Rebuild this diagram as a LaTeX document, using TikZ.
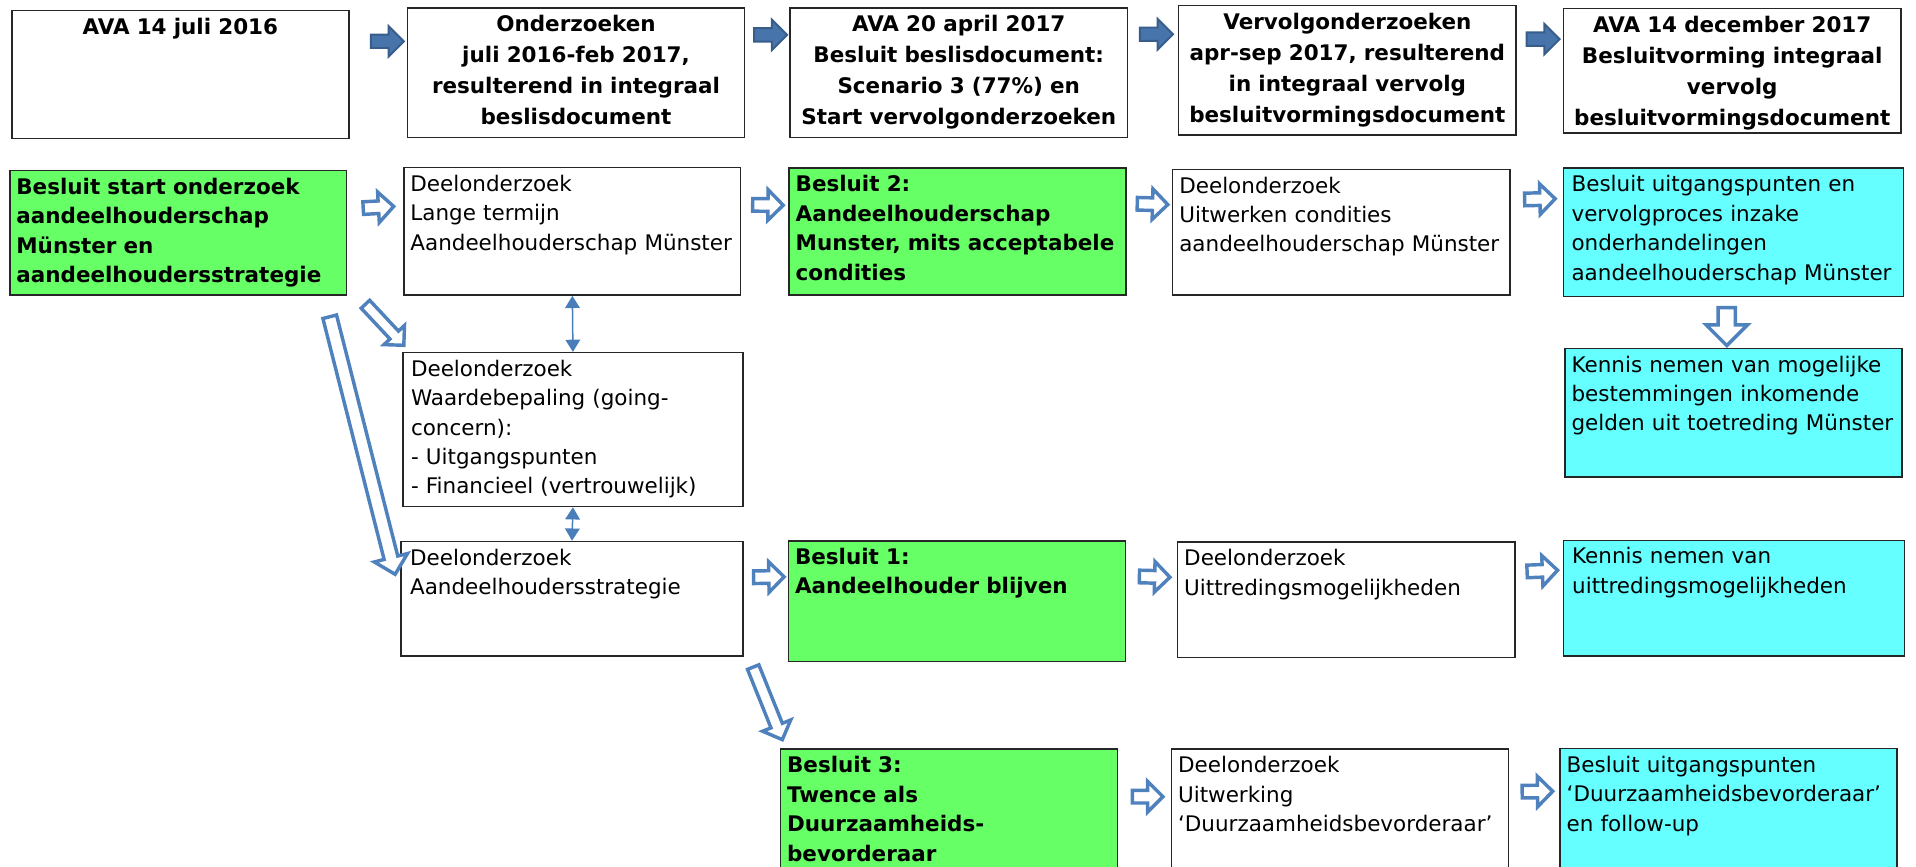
\documentclass[tikz,border=0pt]{standalone}
\usepackage{fontspec}
\setmainfont{DejaVu Sans}
\usetikzlibrary{shapes.arrows,arrows.meta}
\definecolor{groen}{HTML}{66FF66}
\definecolor{cyaan}{HTML}{66FFFF}
\definecolor{blauw}{HTML}{4F81BD}
\definecolor{donkerblauw}{HTML}{385D8A}
\definecolor{pijlblauw}{HTML}{4A7EBB}
\tikzset{
  vak/.style 2 args={draw=black!85, line width=0.7pt, anchor=north west, align=left,
    inner xsep=3pt, inner ysep=2pt, text width=5.3cm, minimum width=#1,
    text height=9pt, text depth=#2, font=\fontsize{10}{13.7}\selectfont},
  kop/.style 2 args={vak={#1}{#2}, align=center, font=\fontsize{10}{14.4}\selectfont\bfseries},
  besluit/.style 2 args={vak={#1}{#2}, fill=groen, font=\fontsize{10}{13.7}\selectfont\bfseries},
  uitkomst/.style 2 args={vak={#1}{#2}, fill=cyaan},
  kopPijl/.style={single arrow, draw=donkerblauw, fill=blauw!65!donkerblauw, line width=0.9pt,
    inner xsep=0pt, inner ysep=0.094cm, minimum height=0.54cm, single arrow head extend=0.14cm},
  holPijl/.style={single arrow, draw=blauw, fill=white, line width=1.6pt,
    inner xsep=0pt, inner ysep=0.075cm, minimum height=0.5cm, single arrow head extend=0.147cm,
    sloped, allow upside down},
  dubbel/.style={pijlblauw, line width=0.7pt,
    {Triangle[length=0.2cm,width=0.24cm]}-{Triangle[length=0.2cm,width=0.24cm]}}
}
\begin{document}
\begin{tikzpicture}
  \path[use as bounding box, clip] (0,0) rectangle (31.36,-14.19);
  % kopregel
  \node[kop={5.52cm}{1.64cm}] (h1) at (0.18,-0.16) {AVA 14 juli 2016};
  \node[kop={5.50cm}{1.66cm}] (h2) at (6.66,-0.12) {Onderzoeken\\juli 2016-feb 2017,\\resulterend in integraal\\beslisdocument};
  \node[kop={5.52cm}{1.66cm}] (h3) at (12.92,-0.12) {AVA 20 april 2017\\Besluit beslisdocument:\\Scenario 3 (77\%) en\\Start vervolgonderzoeken};
  \node[kop={5.52cm}{1.66cm}] (h4) at (19.28,-0.08) {Vervolgonderzoeken\\apr-sep 2017, resulterend\\in integraal vervolg\\besluitvormingsdocument};
  \node[kop={5.52cm}{1.58cm}] (h5) at (25.58,-0.13) {AVA 14 december 2017\\Besluitvorming integraal\\vervolg\\besluitvormingsdocument};
  % besluiten en deelonderzoeken
  \node[besluit={5.51cm}{1.58cm}] (g1) at (0.15,-2.78) {Besluit start onderzoek\\aandeelhouderschap\\Münster en\\aandeelhoudersstrategie};
  \node[vak={5.50cm}{1.63cm}] (w1) at (6.60,-2.73) {Deelonderzoek\\Lange termijn\\Aandeelhouderschap~Münster};
  \node[besluit={5.52cm}{1.62cm}] (g2) at (12.90,-2.74) {Besluit 2:\\Aandeelhouderschap\\Munster,~mits~acceptabele\\condities};
  \node[vak={5.52cm}{1.60cm}] (w2) at (19.18,-2.76) {Deelonderzoek\\Uitwerken condities\\aandeelhouderschap~Münster};
  \node[uitkomst={5.56cm}{1.64cm}] (c1) at (25.58,-2.74) {Besluit uitgangspunten en\\vervolgproces inzake\\onderhandelingen\\aandeelhouderschap~Münster};
  \node[uitkomst={5.52cm}{1.65cm}] (c2) at (25.60,-5.69) {Kennis nemen van mogelijke\\bestemmingen inkomende\\gelden uit toetreding~Münster};
  \node[vak={5.57cm}{2.06cm}] (w3) at (6.58,-5.76) {Deelonderzoek\\Waardebepaling (going-\\concern):\\- Uitgangspunten\\- Financieel (vertrouwelijk)};
  \node[vak={5.60cm}{1.42cm}] (w4) at (6.55,-8.85) {Deelonderzoek\\Aandeelhoudersstrategie};
  \node[besluit={5.52cm}{1.52cm}] (g3) at (12.89,-8.84) {Besluit 1:\\Aandeelhouder blijven};
  \node[vak={5.52cm}{1.43cm}] (w5) at (19.26,-8.86) {Deelonderzoek\\Uittredingsmogelijkheden};
  \node[uitkomst={5.58cm}{1.44cm}] (c3) at (25.58,-8.83) {Kennis nemen van\\uittredingsmogelijkheden};
  \node[besluit={5.52cm}{2.04cm}] (g4) at (12.76,-12.25) {Besluit 3:\\Twence als\\Duurzaamheids-\\bevorderaar};
  \node[vak={5.52cm}{2.04cm}] (w6) at (19.16,-12.25) {Deelonderzoek\\Uitwerking\\‘Duurzaamheidsbevorderaar’};
  \node[uitkomst={5.52cm}{2.04cm}] (c4) at (25.52,-12.24) {Besluit uitgangspunten\\‘Duurzaamheidsbevorderaar’\\en follow-up};
  % pijlen kopregel
  \path ([yshift=-0.54cm]h1.north east) -- ([yshift=-0.54cm]h2.north west) node[kopPijl, pos=0.6] (k1) {};
  \path ([yshift=-0.45cm]h2.north east) -- ([yshift=-0.45cm]h3.north west) node[kopPijl, midway] (k2) {};
  \path ([yshift=-0.46cm]h3.north east) -- ([yshift=-0.46cm]h4.north west) node[kopPijl, midway] (k3) {};
  \path ([yshift=-0.535cm]h4.north east) -- ([yshift=-0.535cm]h5.north west) node[kopPijl, midway] (k4) {};
  % pijlen tussen vakken
  \path ([yshift=-0.64cm]g1.north east) -- ([yshift=-0.64cm]w1.north west) node[holPijl, midway] (p1) {};
  \path ([yshift=-0.62cm]w1.north east) -- ([yshift=-0.62cm]g2.north west) node[holPijl, midway] (p2) {};
  \path ([yshift=-0.59cm]g2.north east) -- ([yshift=-0.59cm]w2.north west) node[holPijl, midway] (p3) {};
  \path ([yshift=-0.51cm]w2.north east) -- ([yshift=-0.51cm]c1.north west) node[holPijl, midway] (p4) {};
  \path ([yshift=-0.60cm]w4.north east) -- ([yshift=-0.60cm]g3.north west) node[holPijl, midway] (p5) {};
  \path ([yshift=-0.59cm]g3.north east) -- ([yshift=-0.59cm]w5.north west) node[holPijl, midway] (p6) {};
  \path ([yshift=-0.50cm]w5.north east) -- ([yshift=-0.50cm]c3.north west) node[holPijl, midway] (p7) {};
  \path ([yshift=-0.79cm]g4.north east) -- ([yshift=-0.79cm]w6.north west) node[holPijl, midway] (p8) {};
  \path ([yshift=-0.71cm]w6.north east) -- ([yshift=-0.71cm]c4.north west) node[holPijl, midway] (p9) {};
  % schuine en verticale pijlen
  \path ([xshift=0.26cm,yshift=-0.1cm]g1.south east) -- ([yshift=0.14cm]w3.north west)
    node[holPijl, midway, minimum height=0.92cm, inner ysep=0.067cm, single arrow head extend=0.135cm] (d1) {};
  \path ([xshift=-0.31cm,yshift=-0.26cm]g1.south east) -- ([xshift=-0.09cm,yshift=0.43cm]w4.west)
    node[holPijl, midway, minimum height=4.35cm, inner ysep=0.087cm, single arrow head extend=0.165cm] (d2) {};
  \path ([xshift=0.13cm,yshift=-0.11cm]w4.south east) -- ([xshift=0.03cm,yshift=0.18cm]g4.north west)
    node[holPijl, midway, minimum height=1.28cm, inner ysep=0.072cm, single arrow head extend=0.148cm] (d3) {};
  \path ([xshift=-0.11cm]c1.south) -- ([xshift=-0.11cm]c2.north)
    node[holPijl, midway, minimum height=0.62cm, inner ysep=0.112cm, single arrow head extend=0.2cm] (d4) {};
  \draw[dubbel] (w1.south) -- (w3.north);
  \draw[dubbel] (w3.south) -- (w4.north);
\end{tikzpicture}
\end{document}
